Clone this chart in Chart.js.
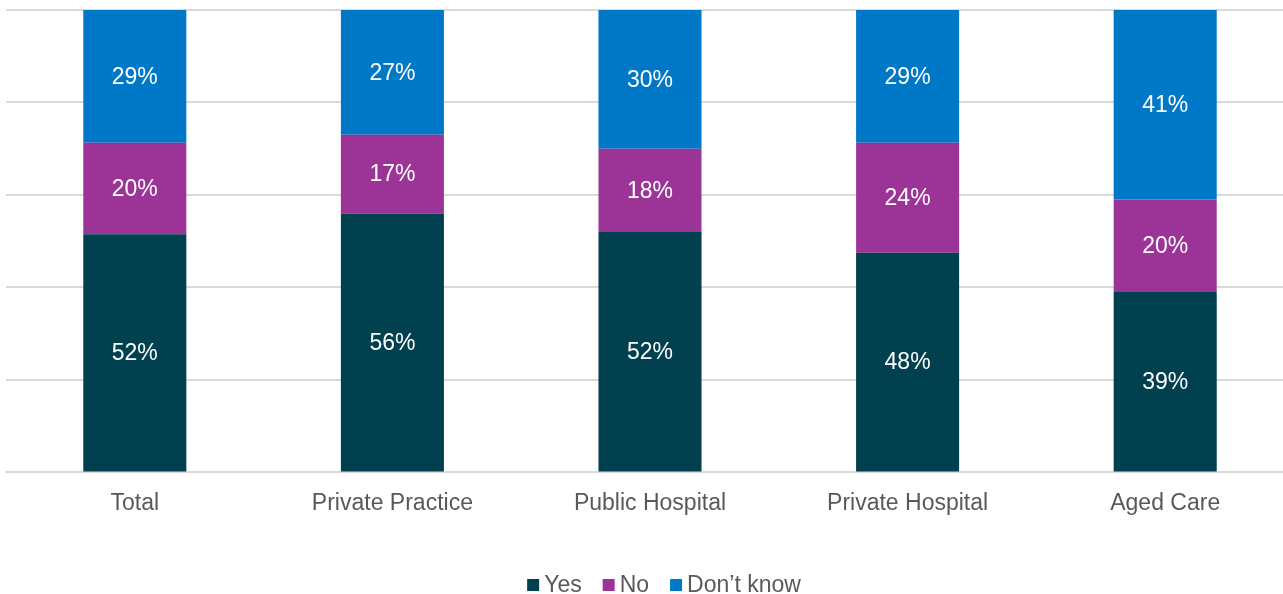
<!DOCTYPE html>
<html>
<head>
<meta charset="utf-8">
<script src="https://cdn.jsdelivr.net/npm/chart.js@4/dist/chart.umd.min.js"></script>
<style>
  html, body { margin: 0; padding: 0; background: #ffffff; overflow: hidden; }
  #wrap { width: 1300px; height: 594px; position: relative; }
</style>
</head>
<body>
<div id="wrap"><canvas id="c" width="1300" height="594"></canvas></div>
<script>
const categories = ["Total", "Private Practice", "Public Hospital", "Private Hospital", "Aged Care"];
const seriesNames = ["Yes", "No", "Don\u2019t know"];
const yesValues = [52, 56, 52, 48, 39];
const noValues = [20, 17, 18, 24, 20];
const dontKnowValues = [29, 27, 30, 29, 41];
const seriesColors = ["#01404E", "#9C3497", "#0078C8"];

const FONT = "'Liberation Sans', Arial, sans-serif";
const raw = [yesValues, noValues, dontKnowValues];
// 100% stacked: each column scaled to its own total
const totals = categories.map((_, i) => raw.reduce((s, arr) => s + arr[i], 0));

const datasets = raw.map((arr, k) => ({
  label: seriesNames[k],
  data: arr.map((v, i) => v / totals[i] * 100),
  rawValues: arr,
  backgroundColor: seriesColors[k],
  borderWidth: 0,
  barPercentage: 0.4,
  categoryPercentage: 1.0
}));

const valueLabels = {
  id: 'valueLabels',
  afterDatasetsDraw(chart) {
    const ctx = chart.ctx;
    ctx.save();
    ctx.font = "23px " + FONT;
    ctx.fillStyle = "#ffffff";
    ctx.textAlign = "center";
    ctx.textBaseline = "middle";
    chart.data.datasets.forEach((ds, di) => {
      const meta = chart.getDatasetMeta(di);
      meta.data.forEach((el, i) => {
        const cy = (el.y + el.base) / 2;
        ctx.fillText(ds.rawValues[i] + "%", el.x, cy + 1);
      });
    });
    ctx.restore();
  }
};

const customLegend = {
  id: 'customLegend',
  afterDraw(chart) {
    const ctx = chart.ctx;
    ctx.save();
    ctx.font = "23px " + FONT;
    ctx.textBaseline = "middle";
    ctx.textAlign = "left";
    const box = 12, gapText = 5, gapItem = 21;
    const items = chart.data.datasets.map(ds => ({ text: ds.label, color: ds.backgroundColor, w: ctx.measureText(ds.label).width }));
    const total = items.reduce((s, it) => s + box + gapText + it.w, 0) + gapItem * (items.length - 1);
    let x = 664 - total / 2;
    const cy = 585;
    items.forEach(it => {
      ctx.fillStyle = it.color;
      ctx.fillRect(x, cy - box / 2, box, box);
      x += box + gapText;
      ctx.fillStyle = "#595959";
      ctx.fillText(it.text, x, cy + 1);
      x += it.w + gapItem;
    });
    ctx.restore();
  }
};

new Chart(document.getElementById('c'), {
  type: 'bar',
  data: { labels: categories, datasets: datasets },
  options: {
    responsive: false,
    animation: false,
    layout: { padding: { left: 6, right: 6, top: 10, bottom: 60 } },
    plugins: {
      legend: { display: false },
      tooltip: { enabled: false }
    },
    scales: {
      x: {
        stacked: true,
        grid: { display: false, drawTicks: false },
        border: { display: true, color: "#d9d9d9", width: 2 },
        ticks: { color: "#595959", font: { family: FONT, size: 23 }, padding: 17, maxRotation: 0 }
      },
      y: {
        stacked: true,
        min: 0,
        max: 100,
        grid: { color: "#d9d9d9", lineWidth: 2, drawTicks: false },
        border: { display: false },
        ticks: { display: false, stepSize: 20 }
      }
    }
  },
  plugins: [valueLabels, customLegend]
});
</script>
</body>
</html>
